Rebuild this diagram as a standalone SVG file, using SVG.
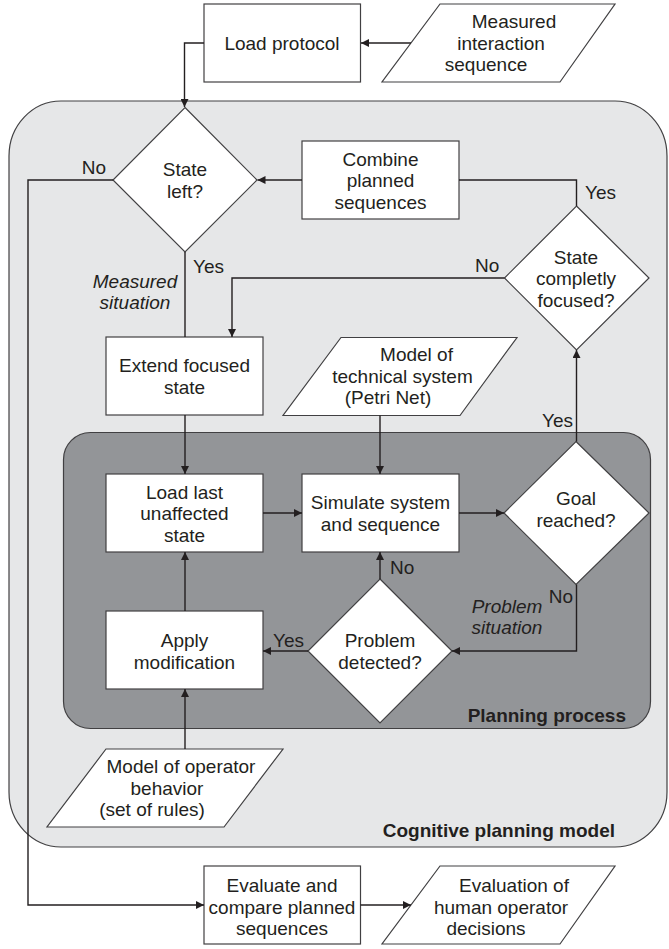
<svg xmlns="http://www.w3.org/2000/svg" width="669" height="949" viewBox="0 0 669 949">
<style>
text{font-family:"Liberation Sans",Arial,sans-serif;font-size:19px;fill:#231f20}
.c{text-anchor:middle}
.e{text-anchor:end}
.i{font-style:italic}
.b{font-weight:bold}
.box{fill:#fff;stroke:#414042;stroke-width:1.2}
.ln{fill:none;stroke:#231f20;stroke-width:1.4}
</style>
<defs>
<marker id="ah" viewBox="0 0 10 10" refX="10" refY="5" markerWidth="8" markerHeight="8" markerUnits="userSpaceOnUse" orient="auto">
<path d="M0,0 L10,5 L0,10 z" fill="#231f20"/>
</marker>
</defs>
<g id="cognitive-model">
<rect x="9" y="101" width="658" height="746" rx="52" ry="55" fill="#e6e7e8" stroke="#414042" stroke-width="1.2"/>
<text class="e b" x="615" y="837">Cognitive planning model</text>
</g>
<g id="planning-process">
<rect x="63.5" y="432.5" width="587" height="296" rx="27" ry="27" fill="#939598" stroke="#414042" stroke-width="1.2"/>
<text class="e b" x="626" y="722">Planning process</text>
</g>
<g id="load-protocol">
<rect class="box" x="204" y="4" width="156.5" height="78"/>
<text class="c" x="282" y="49.5">Load protocol</text>
</g>
<g id="measured-sequence">
<polygon class="box" points="440,4 615,4 560,82 382,82"/>
<text class="c" x="514" y="28">Measured</text>
<text class="c" x="501" y="49.5">interaction</text>
<text class="c" x="486" y="71">sequence</text>
</g>
<g id="state-left">
<polygon class="box" points="185,107.5 257,180 185,252 113,180"/>
<text class="c" x="185" y="176">State</text>
<text class="c" x="185" y="197.5">left?</text>
</g>
<g id="combine">
<rect class="box" x="302" y="141" width="157" height="78"/>
<text class="c" x="380.5" y="165.5">Combine</text>
<text class="c" x="380.5" y="187">planned</text>
<text class="c" x="380.5" y="208.5">sequences</text>
</g>
<g id="state-focused">
<polygon class="box" points="576.5,206 649,278 576.5,350 504.5,278"/>
<text class="c" x="576" y="263.5">State</text>
<text class="c" x="576" y="285">completly</text>
<text class="c" x="576" y="306.5">focused?</text>
</g>
<g id="extend">
<rect class="box" x="106" y="337" width="157" height="78"/>
<text class="c" x="184.5" y="372">Extend focused</text>
<text class="c" x="184.5" y="393.5">state</text>
</g>
<g id="technical-system">
<polygon class="box" points="341,337.5 517,337.5 460,415.5 283,415.5"/>
<text class="c" x="416.5" y="361">Model of</text>
<text class="c" x="402.5" y="382.5">technical system</text>
<text class="c" x="388" y="404">(Petri Net)</text>
</g>
<g id="load-last">
<rect class="box" x="106" y="474" width="157" height="78"/>
<text class="c" x="184.5" y="498.5">Load last</text>
<text class="c" x="184.5" y="520">unaffected</text>
<text class="c" x="184.5" y="541.5">state</text>
</g>
<g id="simulate">
<rect class="box" x="302" y="474" width="157" height="78"/>
<text class="c" x="380.5" y="509">Simulate system</text>
<text class="c" x="380.5" y="530.5">and sequence</text>
</g>
<g id="goal">
<polygon class="box" points="576,441.5 649,513 576,584.5 504,513"/>
<text class="c" x="576" y="505">Goal</text>
<text class="c" x="576" y="526.5">reached?</text>
</g>
<g id="problem">
<polygon class="box" points="380,579 452,651 380,723 308,651"/>
<text class="c" x="380" y="647">Problem</text>
<text class="c" x="380" y="668.5">detected?</text>
</g>
<g id="apply">
<rect class="box" x="106" y="611" width="157" height="78"/>
<text class="c" x="184.5" y="647">Apply</text>
<text class="c" x="184.5" y="668.5">modification</text>
</g>
<g id="operator-model">
<polygon class="box" points="106,749 283,749 224,827 47,827"/>
<text class="c" x="181" y="773">Model of operator</text>
<text class="c" x="167" y="794.5">behavior</text>
<text class="c" x="152" y="816">(set of rules)</text>
</g>
<g id="evaluate">
<rect class="box" x="204" y="866" width="156.5" height="78"/>
<text class="c" x="282" y="892">Evaluate and</text>
<text class="c" x="282" y="913.5">compare planned</text>
<text class="c" x="282" y="935">sequences</text>
</g>
<g id="evaluation">
<polygon class="box" points="440,866 615,866 560,944 382,944"/>
<text class="c" x="514" y="892">Evaluation of</text>
<text class="c" x="501" y="913.5">human operator</text>
<text class="c" x="486" y="935">decisions</text>
</g>
<g id="connectors">
<path class="ln" d="M411,43 H361" marker-end="url(#ah)"/>
<path class="ln" d="M204,43 H184.5 V107" marker-end="url(#ah)"/>
<path class="ln" d="M113,180 H28 V905 H204" marker-end="url(#ah)"/>
<path class="ln" d="M185,252 V337"/>
<path class="ln" d="M302,180 H257.5" marker-end="url(#ah)"/>
<path class="ln" d="M576.5,206 V180 H459"/>
<path class="ln" d="M504.5,278 H232 V337" marker-end="url(#ah)"/>
<path class="ln" d="M185,415 V474" marker-end="url(#ah)"/>
<path class="ln" d="M380,415.5 V474" marker-end="url(#ah)"/>
<path class="ln" d="M263,513 H302" marker-end="url(#ah)"/>
<path class="ln" d="M459,513 H504" marker-end="url(#ah)"/>
<path class="ln" d="M576.5,441.5 V350" marker-end="url(#ah)"/>
<path class="ln" d="M576.5,584.5 V651 H452" marker-end="url(#ah)"/>
<path class="ln" d="M380,579 V552" marker-end="url(#ah)"/>
<path class="ln" d="M308,651 H263" marker-end="url(#ah)"/>
<path class="ln" d="M185,611 V552" marker-end="url(#ah)"/>
<path class="ln" d="M185,749 V689" marker-end="url(#ah)"/>
<path class="ln" d="M360.5,905 H411" marker-end="url(#ah)"/>
</g>
<g id="labels">
<text class="e" x="106" y="174">No</text>
<text x="193" y="273">Yes</text>
<text class="c i" x="135" y="288">Measured</text>
<text class="c i" x="135" y="309">situation</text>
<text x="585" y="199">Yes</text>
<text x="475" y="272">No</text>
<text class="e" x="573" y="427">Yes</text>
<text class="e" x="573" y="603">No</text>
<text class="c i" x="507" y="613">Problem</text>
<text class="c i" x="507" y="634">situation</text>
<text x="390" y="574">No</text>
<text x="273" y="647">Yes</text>
</g>
</svg>
